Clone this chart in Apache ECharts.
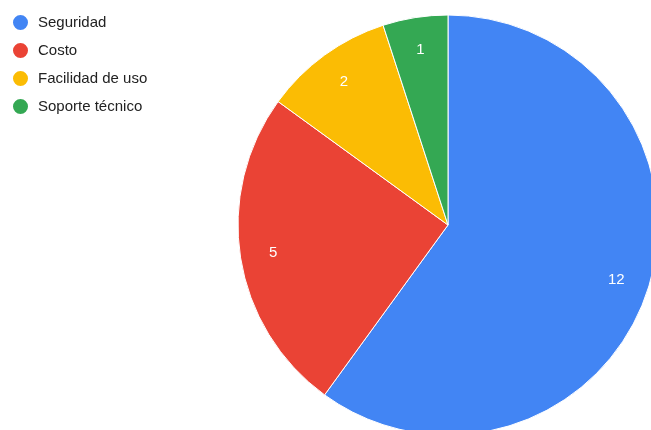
<!DOCTYPE html>
<html>
<head>
<meta charset="utf-8">
<script src="https://cdn.jsdelivr.net/npm/echarts@6/dist/echarts.min.js"></script>
<style>
  html, body { margin: 0; padding: 0; background: #fff; }
  #chart { width: 651px; height: 430px; }
</style>
</head>
<body>
<div id="chart"></div>
<script>
const categories = ['Seguridad', 'Costo', 'Facilidad de uso', 'Soporte técnico'];
const values = [12, 5, 2, 1];
const colors = ['#4285F4', '#EA4335', '#FBBC04', '#34A853'];

const pieData = categories.map((name, i) => ({ name, value: values[i] }));

const chart = echarts.init(document.getElementById('chart'), null, { renderer: 'canvas' });
chart.setOption({
  animation: false,
  color: colors,
  legend: {
    orient: 'vertical',
    left: 6,
    top: 8,
    icon: 'circle',
    itemWidth: 17,
    itemHeight: 17,
    itemGap: 9,
    selectedMode: false,
    data: categories,
    textStyle: {
      fontFamily: 'Liberation Sans, Arial, sans-serif',
      fontSize: 15,
      color: '#222222',
      padding: [0, 0, 0, 4]
    }
  },
  series: [
    {
      type: 'pie',
      center: [448, 225],
      radius: [0, 210],
      startAngle: 90,
      clockwise: true,
      silent: true,
      itemStyle: { borderColor: '#ffffff', borderWidth: 1 },
      label: { show: false },
      labelLine: { show: false },
      data: pieData
    },
    {
      // Transparent ring that only positions the value labels
      type: 'pie',
      center: [448, 225],
      radius: [138, 210],
      startAngle: 90,
      clockwise: true,
      silent: true,
      itemStyle: { color: 'rgba(0,0,0,0)', borderWidth: 0 },
      label: {
        show: true,
        position: 'inside',
        formatter: '{c}',
        color: '#ffffff',
        fontFamily: 'Liberation Sans, Arial, sans-serif',
        fontSize: 15
      },
      labelLine: { show: false },
      data: pieData
    }
  ]
});
</script>
</body>
</html>
